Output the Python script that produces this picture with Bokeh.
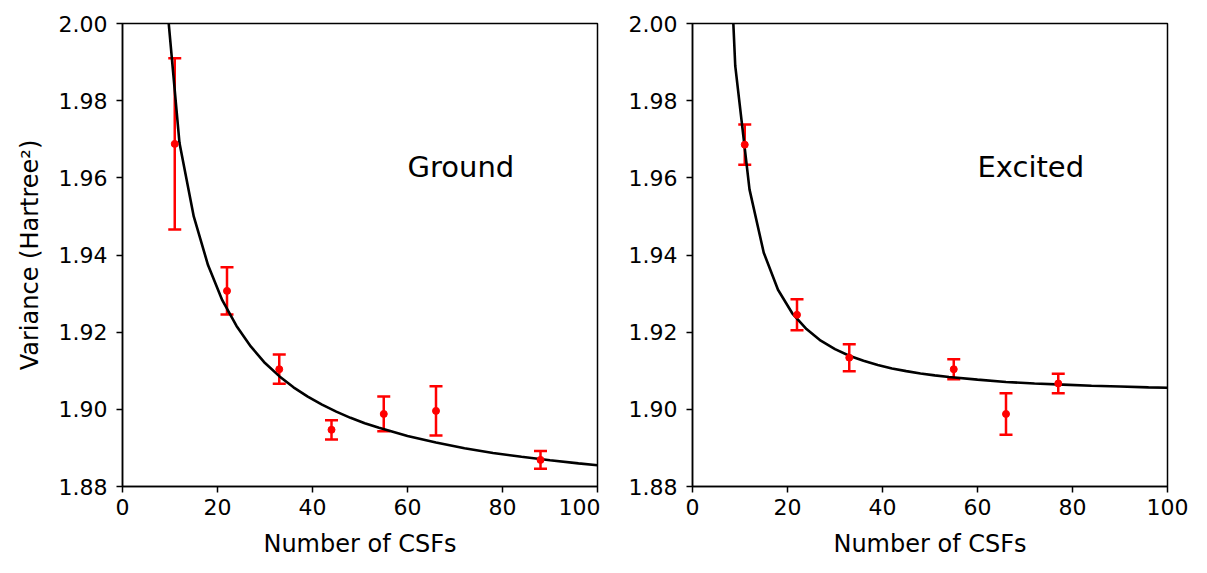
from bokeh.plotting import figure
from bokeh.layouts import row
from bokeh.models import Range1d, FixedTicker, ColumnDataSource, Whisker, TeeHead
from bokeh.core.properties import value
from bokeh.embed import file_html
from bokeh.resources import INLINE

# ---- data ----
ground_n = [11, 22, 33, 44, 55, 66, 88]
ground_var = [1.9688, 1.9307, 1.9104, 1.8947, 1.8988, 1.8996, 1.8869]
ground_err = [0.0222, 0.0061, 0.0038, 0.0025, 0.0045, 0.0064, 0.0023]

excited_n = [11, 22, 33, 55, 66, 77]
excited_var = [1.9686, 1.9245, 1.9134, 1.9104, 1.8988, 1.9067]
excited_err = [0.0052, 0.0040, 0.0035, 0.0026, 0.0054, 0.0025]

curve_x = [6, 9, 12, 15, 18, 21, 24, 27, 30, 33, 36, 39, 42, 45, 48, 51, 54,
           60, 66, 72, 78, 84, 90, 96, 100]
ground_fit = [2.064, 2.010, 1.969, 1.950, 1.9374, 1.9283, 1.9216, 1.9163,
              1.9120, 1.9086, 1.9057, 1.9033, 1.9012, 1.8994, 1.8978, 1.8964,
              1.8952, 1.8931, 1.8914, 1.8899, 1.8887, 1.8877, 1.8868, 1.8860,
              1.8855]
excited_fit = [2.071, 1.989, 1.957, 1.9406, 1.9310, 1.9249, 1.9208, 1.9178,
               1.9156, 1.9139, 1.9126, 1.9115, 1.9106, 1.9099, 1.9093, 1.9088,
               1.9084, 1.9077, 1.9071, 1.9067, 1.9064, 1.9061, 1.9059, 1.9057,
               1.9056]

y_ticks = [1.88, 1.90, 1.92, 1.94, 1.96, 1.98, 2.00]
x_ticks = [0, 20, 40, 60, 80, 100]

FONT = "DejaVu Sans"
RED = "#ff0000"


def make_panel(n, var, err, fit, label, width, border_left, border_right, ylabel):
    p = figure(width=width, height=573, output_backend="svg",
               toolbar_location=None, x_range=Range1d(0, 100),
               y_range=Range1d(1.88, 2.00),
               min_border_left=border_left, min_border_right=border_right,
               min_border_top=23, min_border_bottom=87)
    p.grid.visible = False
    p.outline_line_color = "black"
    p.outline_line_width = 1.5
    p.outline_line_alpha = 1.0
    p.background_fill_color = "white"
    p.border_fill_color = "white"

    p.xaxis.ticker = FixedTicker(ticks=x_ticks)
    p.yaxis.ticker = FixedTicker(ticks=y_ticks)
    p.yaxis.major_label_overrides = {t: f"{t:.2f}" for t in y_ticks}
    p.xaxis.major_label_overrides = {t: f"{t}" for t in x_ticks}
    for ax in (p.xaxis, p.yaxis):
        ax.axis_line_color = "black"
        ax.axis_line_width = 1.5
        ax.major_tick_line_color = "black"
        ax.major_tick_line_width = 1.5
        ax.major_tick_out = 6
        ax.major_tick_in = 0
        ax.minor_tick_line_color = None
        ax.major_label_text_font = FONT
        ax.major_label_text_font_size = "22px"
        ax.major_label_text_color = "black"
        ax.axis_label_text_font = FONT
        ax.axis_label_text_font_size = "24px"
        ax.axis_label_text_font_style = "normal"
        ax.axis_label_text_color = "black"
    p.xaxis.major_label_standoff = 6
    p.yaxis.major_label_standoff = 9
    p.xaxis.axis_label = "Number of CSFs"
    p.xaxis.axis_label_standoff = 12
    if ylabel:
        p.yaxis.axis_label = ylabel
        p.yaxis.axis_label_standoff = 12

    p.line(curve_x, fit, line_color="black", line_width=2.6)

    src = ColumnDataSource(dict(
        x=n, y=var,
        upper=[v + e for v, e in zip(var, err)],
        lower=[v - e for v, e in zip(var, err)],
    ))
    w = Whisker(base="x", upper="upper", lower="lower", source=src,
                dimension="height", line_color=RED, line_width=2.5,
                upper_head=TeeHead(size=13, line_color=RED, line_width=2.5),
                lower_head=TeeHead(size=13, line_color=RED, line_width=2.5))
    p.add_layout(w)
    p.scatter("x", "y", source=src, size=7, color=RED)

    p.text(x=[60], y=[1.96], text=[label], text_font=value(FONT),
           text_font_size=value("29px"), text_color="black",
           text_baseline="alphabetic", text_align="left", y_offset=-11)
    return p


p1 = make_panel(ground_n, ground_var, ground_err, ground_fit, "Ground",
                600, 122, 3, "Variance (Hartree²)")
p2 = make_panel(excited_n, excited_var, excited_err, excited_fit, "Excited",
                607, 92, 40, None)

layout = row(p1, p2)
open("out.html", "w").write(file_html(layout, INLINE))
